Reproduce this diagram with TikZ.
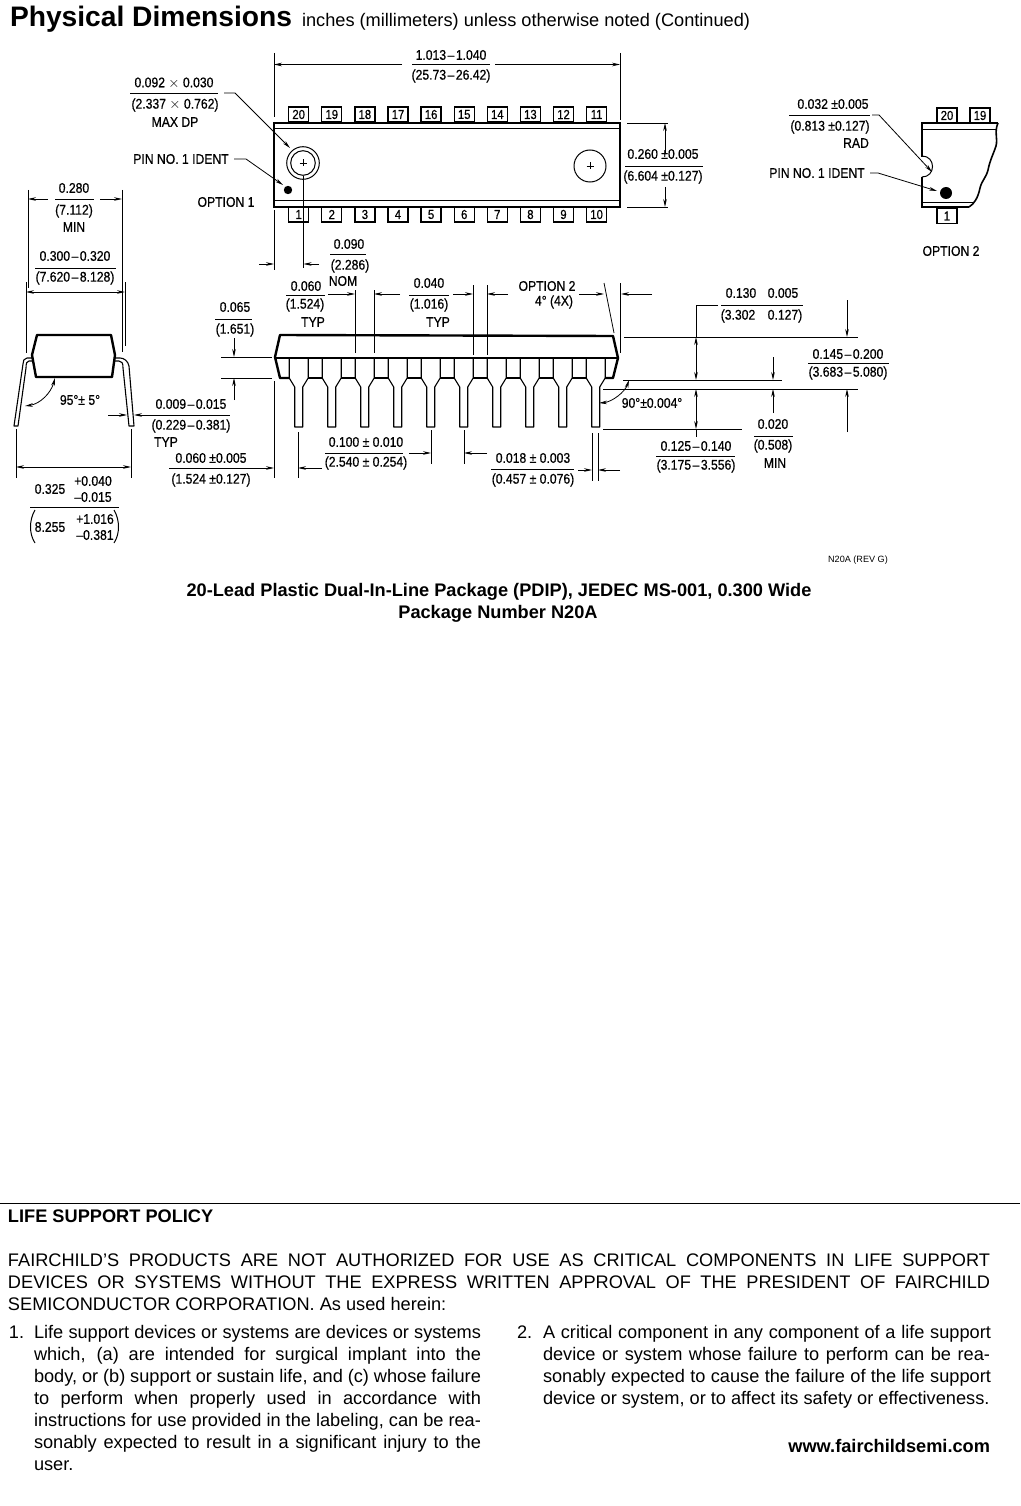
\documentclass[tikz,border=0pt]{standalone}
\usepackage{fontspec}
\setmainfont{Liberation Sans}
\newfontfamily\dwg[FakeStretch=0.87,FakeBold=0.6]{Liberation Sans}
\usetikzlibrary{arrows.meta}
\newcounter{nn}
\def\lbl(#1,#2)#3{\stepcounter{nn}\node[lab] (n\thenn) at (#1,#2) {#3};}
\newcommand{\jl}[4]{\stepcounter{nn}\node[txt] (n\thenn) at (#1,#2) {\hbox to #3pt{#4}};}
\newcommand{\tl}[3]{\stepcounter{nn}\node[txt] (n\thenn) at (#1,#2) {#3};}
\newcommand{\fr}[3]{\draw[thinl] (#1,#3) -- (#2,#3);}
\newcommand{\ds}{\kern1.5pt–\kern1.5pt}
\tikzset{
 lab/.style={inner sep=0pt,outer sep=0pt,font=\dwg\fontsize{14}{14}\selectfont,anchor=center},
 txt/.style={inner sep=0pt,outer sep=0pt,anchor=base west,font=\fontsize{18.2}{22}\selectfont},
 thinl/.style={line width=0.8pt},
 thickl/.style={line width=2.4pt},
 ar/.style={line width=0.8pt,-{Stealth[length=8pt,width=3.6pt]}},
 arb/.style={line width=0.8pt,{Stealth[length=8pt,width=3.6pt]}-{Stealth[length=8pt,width=3.6pt]}},
 pinb/.style={draw,line width=1.3pt,fill=white,minimum width=20pt,minimum height=15pt,inner sep=0pt,font=\dwg\fontsize{13}{13}\selectfont},
}
\begin{document}
\begin{tikzpicture}[x=1pt,y=-1pt]
\useasboundingbox (0,0) rectangle (1020,1506);
% heading
\node[txt,font=\bfseries\fontsize{28.2}{30}\selectfont] (title) at (10,27) {Physical Dimensions};
\node[txt] (sub) at (302,27) {inches (millimeters) unless otherwise noted (Continued)};
% ---- top view
\draw[thickl] (274,123) rectangle (620,207);
\draw[thinl] (274,128.5) -- (620,128.5) (274,200.5) -- (620,200.5);
\foreach \i/\a/\b in {0/1/20,1/2/19,2/3/18,3/4/17,4/5/16,5/6/15,6/7/14,7/8/13,8/9/12,9/10/11}{
 \pgfmathsetmacro\cx{298.7+33.1*\i}
 \node[pinb] (pt\i) at (\cx,114.5) {\b};
 \node[pinb] (pb\i) at (\cx,214.5) {\a};
}
\draw[line width=1pt] (303,163) circle[radius=16.3];
\draw[line width=1pt] (303,163) circle[radius=12.3];
\draw[line width=1pt] (590,166) circle[radius=16];
\draw[thinl] (299.5,163) -- (306.5,163) (303,159.5) -- (303,166.5);
\draw[thinl] (586.5,166) -- (593.5,166) (590,162.5) -- (590,169.5);
\fill (288,190) circle[radius=4.2];
\draw[thinl] (303,176) -- (303,268);
\draw[thinl] (274,210) -- (274,270);
\draw[ar] (259,264) -- (274,264);
\draw[ar] (319,264) -- (303.5,264);
\lbl(349,244){0.090}
\fr{330}{366}{254}
\lbl(350,266){(2.286)}
\lbl(343,281){NOM}
% overall length
\draw[thinl] (274,53) -- (274,117) (620,53) -- (620,120);
\lbl(451,55){1.013\ds 1.040}
\fr{412}{490}{64.5}
\lbl(451,76){(25.73\ds 26.42)}
\draw[ar] (402,64.5) -- (274,64.5);
\draw[ar] (495,64.5) -- (620,64.5);
% callouts
\lbl(174,83){0.092 $\times$ 0.030}
\fr{130}{218}{93}
\lbl(175,105){(2.337 $\times$ 0.762)}
\lbl(175,122){MAX DP}
\draw[ar] (224,93) -- (235,93) -- (290,148);
\lbl(181,159){PIN NO. 1 IDENT}
\draw[ar] (234,159) -- (246,159) -- (283,185);
\lbl(226,202){OPTION 1}
% right dim
\draw[thinl] (627,123) -- (668,123) (627,207) -- (668,207);
\lbl(663,154){0.260 ±0.005}
\fr{625}{703}{166}
\lbl(663,177){(6.604 ±0.127)}
\draw[ar] (665,153) -- (665,123);
\draw[ar] (665,187) -- (665,207);
% ---- option 2
\draw[thickl] (998,123) -- (922,123) -- (922,157);
\draw[thickl] (922,177) -- (922,207) -- (969,207);
\draw[line width=1pt] (922,156) .. controls (936,156) and (936,177) .. (922,177);
\draw[line width=1.6pt] (998,123) .. controls (994,132) and (998,138) .. (996,146) .. controls (993,155) and (990,160) .. (988,170) .. controls (986,178) and (982,180) .. (980,188) .. controls (978,198) and (974,204) .. (969,207);
\draw[thinl] (922,129) -- (997,129) (922,202) -- (973,202);
\node[pinb] (o20) at (947,115.5) {20};
\node[pinb] (o19) at (980,115.5) {19};
\node[pinb] (o1) at (947,216) {1};
\fill (946,193) circle[radius=6];
\lbl(833,104){0.032 ±0.005}
\fr{789}{870}{115}
\lbl(830,127){(0.813 ±0.127)}
\lbl(856,143){RAD}
\draw[ar] (872,115) -- (879,115) -- (932,172);
\lbl(817,173){PIN NO. 1 IDENT}
\draw[ar] (870,173) -- (878,173) -- (937,191);
\lbl(951,251){OPTION 2}
% ---- side view
\draw[thickl,line join=round] (37,335) -- (111,335) -- (115,355) -- (112,377) -- (36,377) -- (32,355) -- cycle;
\draw[line width=1.1pt,line join=round] (33,358) -- (27,358) .. controls (24,358) and (23,361) .. (23,364) -- (14,426) -- (18,426) -- (26,368) .. controls (26,363) and (27,361) .. (29,361) -- (33,361);
\draw[line width=1.1pt,line join=round] (114,358) -- (120,358) .. controls (124,358) and (128,361) .. (129,366) -- (134,426) -- (129,426) -- (123,368) .. controls (123,363) and (122,361) .. (119,361) -- (114,361);
\draw[arb] (55,378) .. controls (51,393) and (40,404) .. (25,406);
\lbl(80,400){95°± 5°}
\draw[thinl] (28,190) -- (28,288) (122,190) -- (122,352) (26,282) -- (26,353) (125,282) -- (125,346);
\lbl(74,188){0.280}
\fr{55}{94}{199}
\lbl(74,211){(7.112)}
\lbl(74,227){MIN}
\draw[ar] (48,199) -- (28,199);
\draw[ar] (100,199) -- (122,199);
\lbl(75,256){0.300\ds 0.320}
\fr{35}{116}{268}
\lbl(75,278){(7.620\ds 8.128)}
\draw[arb] (26,292) -- (125,292);
\draw[thinl] (16,429) -- (16,478) (131,429) -- (131,478);
\draw[arb] (16,467) -- (131,467);
\lbl(50,489){0.325}
\lbl(93,481){+0.040}
\lbl(93,497){–0.015}
\fr{30}{119}{507}
\lbl(50,527){8.255}
\lbl(95,519){+1.016}
\lbl(95,535){–0.381}
\draw[line width=1pt] (35,510) .. controls (29,520) and (29,534) .. (35,543);
\draw[line width=1pt] (114,510) .. controls (120,520) and (120,534) .. (114,543);
\draw[ar] (108,415) -- (127,415);
\draw[ar] (150,415) -- (134,415);
\lbl(191,404){0.009\ds 0.015}
\fr{150}{230}{415}
\lbl(191,426){(0.229\ds 0.381)}
\lbl(166,442){TYP}
\lbl(211,458){0.060 ±0.005}
\fr{169}{252}{468}
\lbl(211,480){(1.524 ±0.127)}
\draw[ar] (252,468) -- (274,468);
\draw[thinl] (274,381) -- (274,478);
\lbl(235,307){0.065}
\fr{215}{252}{319}
\lbl(235,330){(1.651)}
\draw[ar] (234,338) -- (234,357);
\draw[ar] (234,400) -- (234,378);
\draw[thinl] (221,357) -- (272,357) (221,378) -- (272,378);
% ---- front view
\foreach \i in {0,...,9}{
 \pgfmathsetmacro\cx{298.7+33*\i}
 \pgfmathsetmacro\xa{\cx-9.5}\pgfmathsetmacro\xb{\cx+9.5}\pgfmathsetmacro\xc{\cx-4}\pgfmathsetmacro\xd{\cx+4}
 \draw[line width=1.1pt,line join=round] (\xa,358) -- (\xa,378) -- (\xc,387) -- (\xc,427) -- (\xd,427) -- (\xd,387) -- (\xb,378) -- (\xb,358);
}
\foreach \i in {0,...,8}{
 \pgfmathsetmacro\xa{298.7+33*\i+9.5}\pgfmathsetmacro\xb{298.7+33*(\i+1)-9.5}
 \draw[thickl] (\xa,378) -- (\xb,378);
}
\draw[thickl,line join=round] (289.2,378) -- (280,378) -- (275,357) -- (280,335) -- (613,336) -- (618,358) -- (613,378) -- (604.8,378);
\draw[thickl] (275,358) -- (618,358);
\lbl(306,286){0.060}
\fr{286}{325}{295}
\lbl(305,305){(1.524)}
\lbl(313,322){TYP}
\draw[ar] (328,294) -- (355,294);
\draw[thinl] (355,290) -- (355,353) (374,290) -- (374,353);
\draw[ar] (400,294) -- (374,294);
\lbl(429,283){0.040}
\fr{409}{449}{295}
\lbl(429,305){(1.016)}
\lbl(438,322){TYP}
\draw[ar] (453,294) -- (473,294);
\draw[thinl] (473,285) -- (473,355) (487,285) -- (487,355);
\draw[ar] (508,294) -- (487,294);
\lbl(547,286){OPTION 2}
\lbl(554,302){4° (4X)}
\draw[ar] (579,294) -- (604,294);
\draw[thinl] (604,283) -- (614,333);
\draw[thinl] (620.5,283) -- (620.5,353);
\draw[ar] (652,294) -- (621,294);
\draw[thinl] (298,432) -- (298,478);
\draw[ar] (322,468) -- (298,468);
\lbl(366,442){0.100 ± 0.010}
\fr{325}{403}{453}
\lbl(366,463){(2.540 ± 0.254)}
\draw[ar] (409,453) -- (431,453);
\draw[thinl] (431,430) -- (431,464) (464,430) -- (464,464);
\draw[ar] (487,453) -- (464,453);
\lbl(533,458){0.018 ± 0.003}
\fr{491}{574}{469}
\lbl(533,480){(0.457 ± 0.076)}
\draw[ar] (578,470) -- (592,470);
\draw[thinl] (592,433) -- (592,481) (598,433) -- (598,481);
\draw[ar] (620,470) -- (598,470);
% ---- height dims
\draw[thinl] (624,337) -- (858,337) (623,380) -- (782,380) (603,389) -- (858,389) (603,429) -- (742,429);
\draw[arb] (629,380) .. controls (625,392) and (612,402) .. (599,403);
\lbl(652,403){90°±0.004°}
\lbl(741,293){0.130}
\lbl(783,293){0.005}
\fr{721}{803}{305}
\lbl(738,316){(3.302}
\lbl(785,316){0.127)}
\draw[thinl] (718,305) -- (696,305) -- (696,337);
\draw[arb] (696,337) -- (696,380);
\draw[arb] (696,389) -- (696,429);
\draw[thinl] (696,429) -- (696,437);
\lbl(696,446){0.125\ds 0.140}
\fr{656}{735}{456}
\lbl(696,466){(3.175\ds 3.556)}
\draw[ar] (773,357) -- (773,380);
\draw[ar] (773,413) -- (773,389);
\lbl(773,424){0.020}
\fr{754}{793}{436}
\lbl(773,446){(0.508)}
\lbl(775,463){MIN}
\draw[ar] (847,300) -- (847,337);
\draw[ar] (847,432) -- (847,389);
\lbl(848,354){0.145\ds 0.200}
\fr{808}{889}{363}
\lbl(848,373){(3.683\ds 5.080)}
% captions
\node[inner sep=0pt,font=\fontsize{9.1}{10}\selectfont] (rev) at (858,560) {N20A (REV G)};
\node[inner sep=0pt,anchor=base,font=\bfseries\fontsize{18.2}{22}\selectfont] (c1) at (499,596) {20-Lead Plastic Dual-In-Line Package (PDIP), JEDEC MS-001, 0.300 Wide};
\node[inner sep=0pt,anchor=base,font=\bfseries\fontsize{18.2}{22}\selectfont] (c2) at (498,618) {Package Number N20A};
% policy
\draw[line width=0.9pt] (0,1203) -- (1020,1203);
\node[txt,font=\bfseries\fontsize{18.2}{22}\selectfont] (ls) at (8,1222) {LIFE SUPPORT POLICY};
\jl{8}{1266}{982}{FAIRCHILD’S PRODUCTS ARE NOT AUTHORIZED FOR USE AS CRITICAL COMPONENTS IN LIFE SUPPORT}
\jl{8}{1288}{982}{DEVICES OR SYSTEMS WITHOUT THE EXPRESS WRITTEN APPROVAL OF THE PRESIDENT OF FAIRCHILD}
\tl{8}{1310}{SEMICONDUCTOR CORPORATION. As used herein:}
\tl{9}{1338}{1.}
\jl{34}{1338}{447}{Life support devices or systems are devices or systems}
\jl{34}{1360}{447}{which, (a) are intended for surgical implant into the}
\jl{34}{1382}{447}{body, or (b) support or sustain life, and (c) whose failure}
\jl{34}{1404}{447}{to perform when properly used in accordance with}
\jl{34}{1426}{447}{instructions for use provided in the labeling, can be rea-}
\jl{34}{1448}{447}{sonably expected to result in a significant injury to the}
\tl{34}{1470}{user.}
\tl{517}{1338}{2.}
\jl{543}{1338}{448}{A critical component in any component of a life support}
\jl{543}{1360}{447}{device or system whose failure to perform can be rea-}
\jl{543}{1382}{448}{sonably expected to cause the failure of the life support}
\tl{543}{1404}{device or system, or to affect its safety or effectiveness.}
\node[txt,anchor=base east,font=\bfseries\fontsize{18.2}{22}\selectfont] (web) at (990,1452) {www.fairchildsemi.com};
\end{tikzpicture}
\end{document}
